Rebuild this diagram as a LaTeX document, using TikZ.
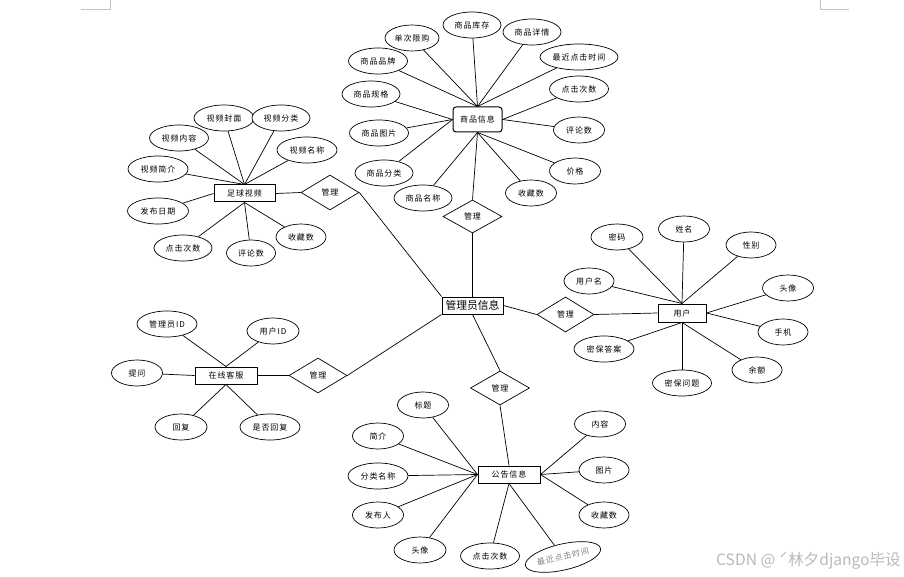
\documentclass[tikz,border=0pt]{standalone}
\usepackage{fontspec}
\setmainfont[LetterSpace=12]{Noto Sans CJK SC}
\newfontfamily\wmfont{Noto Sans CJK SC}
\usetikzlibrary{shapes.geometric}
\definecolor{wmgray}{RGB}{185,185,185}
\definecolor{markgray}{RGB}{195,195,195}
\tikzset{
  attr/.style={ellipse, draw, fill=white, line width=0.7pt, minimum width=#1, minimum height=26pt, inner sep=0pt, font=\fontsize{8}{9}\selectfont},
  attr/.default=58pt,
  ent/.style={rectangle, draw, fill=white, line width=1pt, minimum width=62pt, minimum height=17pt, inner sep=0pt, font=\fontsize{8}{9}\selectfont},
  rel/.style={diamond, draw, fill=white, line width=0.7pt, minimum width=58pt, minimum height=35pt, inner sep=0pt, font=\fontsize{8}{9}\selectfont},
  conn/.style={line width=0.7pt},
  cornermark/.style={draw=markgray, line width=0.6pt}
}
\begin{document}
\begin{tikzpicture}[x=1pt, y=-1pt]
\useasboundingbox (0,0) rectangle (904,577);
% corner marks
\coordinate (tl1) at (81,9); \coordinate (tl2) at (110,9); \coordinate (tl3) at (110,0);
\coordinate (tr1) at (849,9); \coordinate (tr2) at (820,9); \coordinate (tr3) at (820,0);
\draw[cornermark] (tl1) -- (tl2) -- (tl3);
\draw[cornermark] (tr1) -- (tr2) -- (tr3);

% ===== entities =====
\node[ent, minimum width=61pt] (video) at (244.5,193.5) {足球视频};
\node[ent, rounded corners=3pt, minimum width=49pt, minimum height=25pt] (goods) at (477.5,119.5) {商品信息};
\node[ent, minimum width=61pt, font=\wmfont\fontsize{10.8}{12}\selectfont] (admin) at (472.5,305.5) {管理员信息};
\node[ent, minimum width=48pt, minimum height=18pt] (user) at (682,313) {用户};
\node[ent] (service) at (226,375.5) {在线客服};
\node[ent] (notice) at (509,474.5) {公告信息};

% ===== relations =====
\node[rel] (rv) at (330,192.5) {管理};
\node[rel, minimum width=59pt, minimum height=33pt] (rg) at (472.5,216.5) {管理};
\node[rel, minimum width=57pt] (ru) at (565.5,314.5) {管理};
\node[rel] (rs) at (318,375.5) {管理};
\node[rel, minimum width=59pt, minimum height=34pt] (rn) at (500,388) {管理};

% ===== product attributes =====
\node[attr] (g1) at (472,25) {商品库存};
\node[attr=54pt] (g2) at (412,38) {单次限购};
\node[attr] (g3) at (532,32) {商品详情};
\node[attr=78pt] (g4) at (579,57) {最近点击时间};
\node[attr=59pt] (g5) at (378,61) {商品品牌};
\node[attr] (g6) at (371,94) {商品规格};
\node[attr=59pt] (g7) at (579,89) {点击次数};
\node[attr=59pt] (g8) at (379,133) {商品图片};
\node[attr=51pt] (g9) at (579,130) {评论数};
\node[attr] (g10) at (384,173) {商品分类};
\node[attr=51pt] (g11) at (575,171) {价格};
\node[attr] (g12) at (423,198) {商品名称};
\node[attr=51pt] (g13) at (531,193) {收藏数};

\draw[conn] (g1) -- (goods.north);
\draw[conn] (g2) -- (goods.north);
\draw[conn] (g3) -- (goods.north);
\draw[conn] (g4) -- (goods.north);
\draw[conn] (g5) -- (goods.north);
\draw[conn] (g6) -- (goods.west);
\draw[conn] (g7) -- (goods.east);
\draw[conn] (g8) -- (goods.west);
\draw[conn] (g9) -- (goods.east);
\draw[conn] (g10) -- (goods.west);
\draw[conn] (g11) -- (goods.south);
\draw[conn] (g12) -- (goods.south);
\draw[conn] (g13) -- (goods.south);

% ===== video attributes =====
\node[attr=60pt] (v1) at (224,118) {视频封面};
\node[attr] (v2) at (281,118) {视频分类};
\node[attr=59pt] (v3) at (179,138) {视频内容};
\node[attr=60pt] (v4) at (307,150) {视频名称};
\node[attr=60pt] (v5) at (158,169) {视频简介};
\node[attr=61pt] (v6) at (158,211) {发布日期};
\node[attr] (v7) at (183,248) {点击次数};
\node[attr=49pt] (v8) at (251,253) {评论数};
\node[attr=50pt] (v9) at (301,237) {收藏数};

\draw[conn] (v1) -- (video.north);
\draw[conn] (v2) -- (video.north);
\draw[conn] (v3) -- (video.north);
\draw[conn] (v4) -- (video.north);
\draw[conn] (v5) -- (video.north);
\draw[conn] (v6) -- (video.west);
\draw[conn] (v7) -- (video.south);
\draw[conn] (v8) -- (video.south);
\draw[conn] (v9) -- (video.south);

% ===== user attributes =====
\node[attr=52pt] (u1) at (617,237) {密码};
\node[attr=51pt] (u2) at (684,229) {姓名};
\node[attr=50pt] (u3) at (751,245) {性别};
\node[attr=50pt] (u4) at (589,281) {用户名};
\node[attr=51pt] (u5) at (788,288) {头像};
\node[attr=50pt] (u6) at (783,332) {手机};
\node[attr=60pt] (u7) at (604,349) {密保答案};
\node[attr=50pt] (u8) at (757,370) {余额};
\node[attr=59pt] (u9) at (682,383) {密保问题};

\draw[conn] (u1) -- (user.north);
\draw[conn] (u2) -- (user.north);
\draw[conn] (u3) -- (user.north);
\draw[conn] (u4) -- (user.north);
\draw[conn] (u5) -- (user.east);
\draw[conn] (u6) -- (user.east);
\draw[conn] (u7) -- (user.south);
\draw[conn] (u8) -- (user.south);
\draw[conn] (u9) -- (user.south);

% ===== service attributes =====
\node[attr=60pt] (s1) at (167,324) {管理员ID};
\node[attr=52pt] (s2) at (273,331) {用户ID};
\node[attr=51pt] (s3) at (137,373) {提问};
\node[attr=52pt] (s4) at (181,427) {回复};
\node[attr=60pt] (s5) at (270,427) {是否回复};

\draw[conn] (s1) -- (service.north);
\draw[conn] (s2) -- (service.north);
\draw[conn] (s3) -- (service.west);
\draw[conn] (s4) -- (service.south);
\draw[conn] (s5) -- (service.south);

% ===== notice attributes =====
\node[attr=51pt] (n1) at (423,405) {标题};
\node[attr=51pt] (n2) at (378,436) {简介};
\node[attr=60pt] (n3) at (378,476) {分类名称};
\node[attr=51pt] (n4) at (378,515) {发布人};
\node[attr=52pt] (n5) at (420,550) {头像};
\node[attr=59pt] (n6) at (490,556) {点击次数};
\node[attr=77pt, rotate=13, text=gray] (n7) at (563,557) {最近点击时间};
\node[attr=51pt] (n8) at (600,424) {内容};
\node[attr=50pt] (n9) at (604,470) {图片};
\node[attr=50pt] (n10) at (604,515) {收藏数};

\draw[conn] (n1) -- (notice.west);
\draw[conn] (n2) -- (notice.west);
\draw[conn] (n3) -- (notice.west);
\draw[conn] (n4) -- (notice.west);
\draw[conn] (n5) -- (notice.west);
\draw[conn] (n6) -- (notice.south);
\draw[conn] (n7) -- (notice.south);
\draw[conn] (n8) -- (notice.east);
\draw[conn] (n9) -- (notice.east);
\draw[conn] (n10) -- (notice.east);

% ===== relation links =====
\draw[conn] (video.east) -- (rv.west);
\draw[conn] (rv.east) -- (admin.north west);
\draw[conn] (goods.south) -- (rg.north);
\draw[conn] (rg.south) -- (admin.north);
\draw[conn] (admin.east) -- (ru.west);
\draw[conn] (ru.east) -- (user.west);
\draw[conn] (service.east) -- (rs.west);
\draw[conn] (rs.east) -- (admin.south west);
\draw[conn] (admin.south) -- (rn.north);
\draw[conn] (rn.south) -- (notice.north);

% watermark
\node[anchor=east, text=wmgray, font=\wmfont\fontsize{15.6}{17}\selectfont, inner sep=0pt] (wm) at (901,561) {CSDN @ ˊ林夕django毕设};
\end{tikzpicture}
\end{document}
